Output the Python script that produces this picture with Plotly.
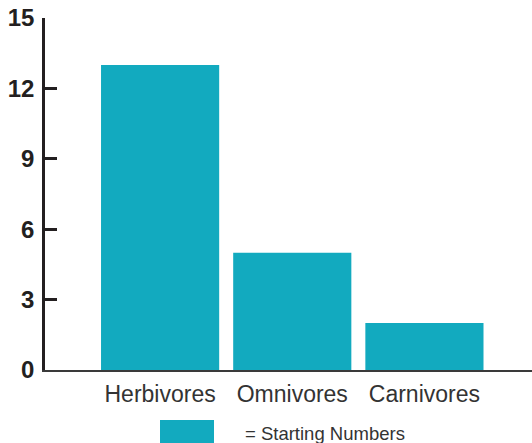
import plotly.graph_objects as go

categories = ["Herbivores", "Omnivores", "Carnivores"]
values = [13, 5, 2]
y_ticks = [0, 3, 6, 9, 12, 15]
legend_label = "= Starting Numbers"

BAR = "#12aabf"
DARK = "#231f20"

fig = go.Figure()
fig.add_trace(go.Bar(
    x=list(range(len(categories))), y=values,
    marker=dict(color=BAR, line=dict(width=0)),
    showlegend=False, hoverinfo="skip",
))

fig.update_layout(
    width=532, height=443,
    margin=dict(l=45, r=0, t=18, b=73),
    paper_bgcolor="white", plot_bgcolor="white",
    bargap=0.106,
    showlegend=False,
)
fig.update_xaxes(
    range=[-0.871, 2.814],
    tickvals=list(range(len(categories))), ticktext=categories,
    showline=True, linecolor="#3a3a3a", linewidth=2,
    ticks="", showgrid=False, zeroline=False,
    ticklabelstandoff=2,
    tickfont=dict(family="Liberation Sans", size=23, color="#333333"),
)
fig.update_yaxes(
    range=[0, 15], tickvals=y_ticks,
    showline=True, linecolor=DARK, linewidth=2.5,
    ticks="inside", ticklen=12, tickwidth=2.5, tickcolor=DARK,
    showgrid=False, zeroline=False,
    ticklabelstandoff=3,
    tickfont=dict(family="Liberation Sans", size=24, color=DARK, weight="bold"),
)

fig.add_shape(type="rect", xref="paper", yref="paper",
              x0=(160 - 45) / 487, x1=(214 - 45) / 487,
              y0=(370 - 443) / 352, y1=(370 - 420) / 352,
              fillcolor=BAR, line=dict(width=0), layer="above")
fig.add_annotation(text=legend_label, xref="paper", yref="paper",
                   x=(243 - 45) / 487, y=(370 - 433) / 352,
                   xanchor="left", yanchor="middle", showarrow=False,
                   font=dict(family="Liberation Sans", size=18.5, color="#333333"))

fig.write_html("out.html")
